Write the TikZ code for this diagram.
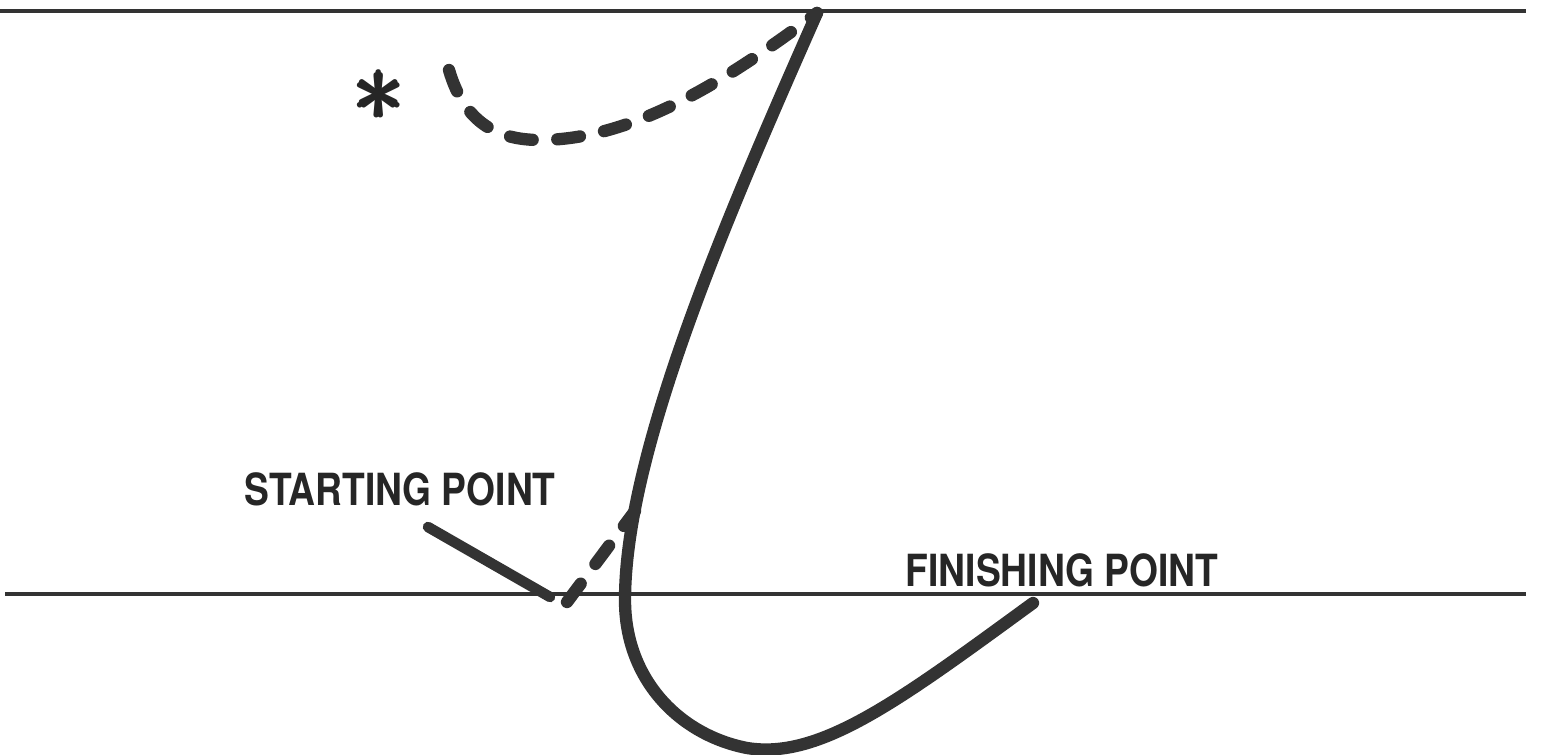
\documentclass[tikz,border=0pt]{standalone}
\usepackage{amsmath}
\usepackage{fontspec}
\setmainfont{TeX Gyre Heros}
\newfontfamily\labelfont[FakeStretch=0.84]{TeX Gyre Heros}
\usetikzlibrary{positioning,calc}

\begin{document}
\begin{tikzpicture}[x=0.01cm, y=-0.01cm,
  rule/.style={draw=black!80, line width=0.9pt},
  trace/.style={draw=black!80, line width=3.5pt, line cap=round, line join=round},
  dashtrace/.style={trace, dash pattern=on 6.5pt off 7pt},
  pointer/.style={draw=black!80, line width=3pt, line cap=round},
  tag/.style={font=\labelfont\bfseries\fontsize{12.6}{14}\selectfont, text=black!85, inner sep=0pt},
  starmark/.style={font=\Huge, text=black!85, inner sep=0pt}
]
  \useasboundingbox (0,0) rectangle (1543,755);

  % the two horizontal lines
  \coordinate (topL) at (0,11);
  \coordinate (topR) at (1526,11);
  \coordinate (botL) at (5,594);
  \coordinate (botR) at (1526,594);
  \draw[rule] (topL) -- (topR);
  \draw[rule] (botL) -- (botR);

  % points on the path
  \coordinate (apex) at (817,13);
  \coordinate (start) at (567,602);
  \coordinate (join) at (635,511);
  \coordinate (low) at (625,600);
  \coordinate (bottom) at (747,748);
  \coordinate (finish) at (1033,603);
  \coordinate (arcstart) at (449,70);
  \coordinate (arclow) at (540,140);

  \node[tag] (starting) at (400,489) {STARTING POINT};
  \node[tag] (finishing) at (1062,570) {FINISHING POINT};
  \node[starmark] (star) at (381,96) {\scalebox{1.2}{$\pmb{\ast}$}};

  \coordinate (tip) at (550,597);
  \draw[pointer] (428,527) -- (tip);

  \draw[trace] (finish) .. controls (900,700) and (820,760) .. (bottom)
    .. controls (680,735) and (625,680) .. (low)
    .. controls (625,450) and (730,210) .. (apex);
  \draw[dashtrace] (start) -- (join);
  \draw[dashtrace] (arcstart) .. controls (465,125) and (500,140) .. (arclow)
    .. controls (640,140) and (740,70) .. (apex);
\end{tikzpicture}
\end{document}
